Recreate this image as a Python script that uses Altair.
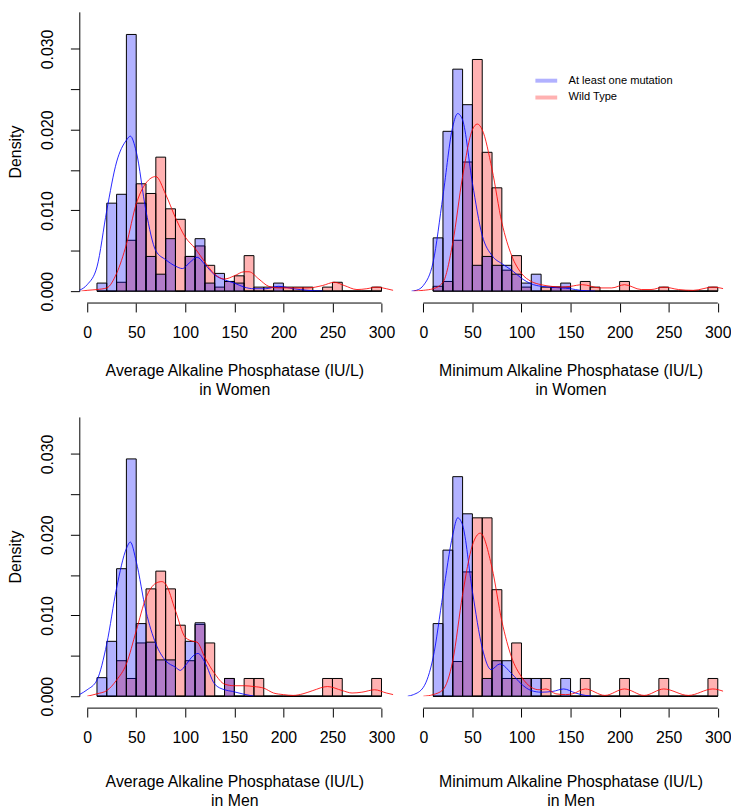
import altair as alt
import pandas as pd

# ---------------- data ----------------
BIN_STARTS = list(range(10, 300, 10))
BIN_WIDTH = 10
GROUPS = ["At least one mutation", "Wild Type"]
X_TICKS = [0, 50, 100, 150, 200, 250, 300]
Y_TICKS = [0.0, 0.005, 0.010, 0.015, 0.020, 0.025, 0.030]

# histogram densities per bin (10-20, 20-30, ..., 290-300)
avg_women_mut = [0.0010, 0.0109, 0.0120, 0.0318, 0.0109, 0.0043, 0.0021, 0.0065, 0.0, 0.0043,
                 0.0065, 0.0010, 0.0022, 0.0012, 0.0010, 0.0, 0.0, 0.0, 0.0010, 0.0,
                 0.0, 0.0, 0.0, 0.0, 0.0, 0.0, 0.0, 0.0, 0.0]
avg_women_wt = [0.0, 0.0, 0.0011, 0.0063, 0.0133, 0.0121, 0.0166, 0.0102, 0.0089, 0.0043,
                0.0056, 0.0032, 0.0005, 0.0012, 0.0019, 0.0044, 0.0005, 0.0005, 0.0005, 0.0005,
                0.0005, 0.0005, 0.0, 0.0005, 0.0011, 0.0, 0.0, 0.0, 0.0005]
min_women_mut = [0.0066, 0.0198, 0.0275, 0.0231, 0.0032, 0.0043, 0.0032, 0.0032, 0.0021, 0.0010,
                 0.0021, 0.0, 0.0005, 0.0010, 0.0, 0.0, 0.0, 0.0, 0.0, 0.0,
                 0.0, 0.0, 0.0, 0.0, 0.0, 0.0, 0.0, 0.0, 0.0]
min_women_wt = [0.0006, 0.0012, 0.0063, 0.0160, 0.0287, 0.0172, 0.0128, 0.0026, 0.0044, 0.0005,
                0.0, 0.0005, 0.0005, 0.0005, 0.0, 0.0012, 0.0005, 0.0, 0.0, 0.0012,
                0.0, 0.0, 0.0, 0.0005, 0.0, 0.0, 0.0, 0.0, 0.0005]
avg_men_mut = [0.0023, 0.0068, 0.0158, 0.0294, 0.0090, 0.0067, 0.0045, 0.0045, 0.0, 0.0068,
               0.0091, 0.0, 0.0, 0.0022, 0.0, 0.0, 0.0, 0.0, 0.0, 0.0,
               0.0, 0.0, 0.0, 0.0, 0.0, 0.0, 0.0, 0.0, 0.0]
avg_men_wt = [0.0, 0.0, 0.0044, 0.0022, 0.0066, 0.0133, 0.0155, 0.0133, 0.0088, 0.0044,
              0.0089, 0.0066, 0.0, 0.0022, 0.0, 0.0022, 0.0022, 0.0, 0.0, 0.0,
              0.0, 0.0, 0.0, 0.0022, 0.0022, 0.0, 0.0, 0.0, 0.0022]
min_men_mut = [0.0090, 0.0181, 0.0272, 0.0226, 0.0, 0.0022, 0.0044, 0.0044, 0.0022, 0.0022,
               0.0022, 0.0, 0.0, 0.0022, 0.0, 0.0, 0.0, 0.0, 0.0, 0.0,
               0.0, 0.0, 0.0, 0.0, 0.0, 0.0, 0.0, 0.0, 0.0]
min_men_wt = [0.0, 0.0, 0.0043, 0.0154, 0.0221, 0.0221, 0.0132, 0.0022, 0.0066, 0.0022,
              0.0, 0.0022, 0.0, 0.0, 0.0, 0.0022, 0.0, 0.0, 0.0, 0.0022,
              0.0, 0.0, 0.0, 0.0022, 0.0, 0.0, 0.0, 0.0, 0.0022]

# density curves (x, y)
avg_women_mut_cx = [-8, 0, 10, 20, 30, 40, 44, 50, 60, 70, 80, 90, 97, 105, 112, 120, 130, 140, 150, 160, 170, 182, 195, 210, 225, 240]
avg_women_mut_cy = [0.0001, 0.0008, 0.0030, 0.0100, 0.0160, 0.0187, 0.0192, 0.0173, 0.0099, 0.0050, 0.0039, 0.0031, 0.0028, 0.0036, 0.0042, 0.0033, 0.0020, 0.0014, 0.0010, 0.0005, 0.0003, 0.0003, 0.0006, 0.0003, 0.0001, 0.0]
avg_women_wt_cx = [-6, 0, 10, 20, 30, 40, 50, 60, 70, 80, 90, 100, 110, 120, 130, 140, 150, 160, 165, 175, 185, 195, 210, 225, 240, 252, 262, 275, 285, 295, 305, 312]
avg_women_wt_cy = [0.0, 0.0001, 0.0002, 0.0004, 0.0022, 0.0058, 0.0108, 0.0134, 0.0142, 0.0120, 0.0091, 0.0067, 0.0053, 0.0036, 0.0021, 0.0015, 0.0019, 0.0024, 0.0024, 0.0015, 0.0006, 0.0004, 0.0004, 0.0004, 0.0007, 0.0011, 0.0007, 0.0002, 0.0003, 0.0005, 0.0003, 0.0001]
min_women_mut_cx = [-12, -5, 0, 10, 20, 30, 35, 40, 50, 60, 70, 80, 90, 100, 110, 120, 130, 140, 150, 160, 175]
min_women_mut_cy = [0.0, 0.0002, 0.0007, 0.0036, 0.0118, 0.0204, 0.0220, 0.0212, 0.0134, 0.0069, 0.0044, 0.0034, 0.0026, 0.0016, 0.0009, 0.0006, 0.0005, 0.0004, 0.0003, 0.0001, 0.0]
min_women_wt_cx = [-10, 0, 10, 20, 30, 40, 50, 55, 60, 70, 80, 90, 100, 110, 120, 130, 140, 150, 162, 180, 192, 205, 222, 232, 245, 260, 275, 295, 306]
min_women_wt_cy = [0.0, 0.0001, 0.0003, 0.0011, 0.0060, 0.0142, 0.0200, 0.0207, 0.0200, 0.0151, 0.0085, 0.0044, 0.0022, 0.0012, 0.0008, 0.0006, 0.0005, 0.0006, 0.0008, 0.0004, 0.0004, 0.0008, 0.0002, 0.0002, 0.0005, 0.0002, 0.0001, 0.0005, 0.0003]
avg_men_mut_cx = [-8, 0, 10, 20, 30, 40, 44, 50, 60, 70, 80, 90, 95, 100, 108, 113, 120, 130, 140, 148, 158, 170]
avg_men_mut_cy = [0.0002, 0.0008, 0.0020, 0.0065, 0.0134, 0.0183, 0.0191, 0.0167, 0.0105, 0.0065, 0.0044, 0.0036, 0.0032, 0.0038, 0.0050, 0.0053, 0.0042, 0.0015, 0.0008, 0.0006, 0.0003, 0.0]
avg_men_wt_cx = [0, 10, 20, 30, 40, 50, 60, 70, 76, 80, 90, 100, 108, 112, 120, 130, 140, 150, 160, 170, 180, 190, 200, 210, 220, 230, 245, 260, 270, 280, 293, 305, 312]
avg_men_wt_cy = [0.0, 0.0003, 0.0007, 0.0020, 0.0040, 0.0081, 0.0122, 0.0140, 0.0142, 0.0139, 0.0106, 0.0073, 0.0068, 0.0067, 0.0048, 0.0028, 0.0015, 0.0013, 0.0013, 0.0012, 0.0010, 0.0004, 0.0002, 0.0001, 0.0003, 0.0007, 0.0012, 0.0007, 0.0004, 0.0005, 0.0008, 0.0004, 0.0002]
min_men_mut_cx = [-16, -10, 0, 10, 20, 30, 35, 40, 50, 60, 69, 78, 90, 100, 110, 120, 132, 143, 155, 165, 172]
min_men_mut_cy = [0.0, 0.0002, 0.0011, 0.0048, 0.0126, 0.0200, 0.0221, 0.0212, 0.0130, 0.0060, 0.0033, 0.0040, 0.0028, 0.0015, 0.0007, 0.0005, 0.0006, 0.0009, 0.0004, 0.0001, 0.0]
min_men_wt_cx = [0, 10, 20, 30, 40, 50, 58, 70, 80, 90, 100, 110, 118, 125, 135, 145, 152, 165, 185, 205, 225, 245, 270, 295, 306]
min_men_wt_cy = [0.0, 0.0002, 0.0008, 0.0044, 0.0126, 0.0187, 0.0202, 0.0159, 0.0093, 0.0048, 0.0024, 0.0011, 0.0008, 0.0009, 0.0003, 0.0002, 0.0003, 0.0009, 0.0001, 0.0009, 0.0001, 0.0009, 0.0001, 0.0009, 0.0006]

TITLES = {
    "avg_women": ["Average Alkaline Phosphatase (IU/L)", "in Women"],
    "min_women": ["Minimum Alkaline Phosphatase (IU/L)", "in Women"],
    "avg_men": ["Average Alkaline Phosphatase (IU/L)", "in Men"],
    "min_men": ["Minimum Alkaline Phosphatase (IU/L)", "in Men"],
}

# ---------------- layout ----------------
PLOT_H = 282
Y_MAX = 0.0346
LEFT_DOM = [-8, 312]
LEFT_W = 317
RIGHT_DOM = [-16.5, 305.4]
RIGHT_W = 319
FONT = "Liberation Sans"


def bar_frame(mut, wt):
    rows = []
    for group, vals in ((GROUPS[1], wt), (GROUPS[0], mut)):
        for s, d in zip(BIN_STARTS, vals):
            rows.append({"group": group, "start": s, "end": s + BIN_WIDTH, "density": d, "base": 0.0})
    return pd.DataFrame(rows)


def curve_frame(mx, my, wx, wy):
    rows = []
    for group, xs, ys in ((GROUPS[0], mx, my), (GROUPS[1], wx, wy)):
        for x, y in zip(xs, ys):
            rows.append({"group": group, "v": x, "d": y})
    return pd.DataFrame(rows)


def panel(bars, curves, title, xdom, width, left, legend, title_y, title_x):
    xs = alt.Scale(domain=xdom, nice=False, zero=False)
    ys = alt.Scale(domain=[0, Y_MAX], nice=False, zero=True)
    xax = alt.Axis(values=X_TICKS, domain=False, offset=12, tickSize=9, tickColor="black",
                   labelPadding=13, labelFontSize=16, labelColor="black", labelFlush=False,
                   labelOverlap=False, grid=False, title=title, titleFontSize=16,
                   titleFontWeight="normal", titleColor="black", titleY=title_y,
                   titleX=title_x, titleLineHeight=19, labelFont=FONT, titleFont=FONT)
    if left:
        yax = alt.Axis(values=Y_TICKS, tickSize=9, tickColor="black", domainColor="black",
                       labelAngle=270, labelAlign="center", labelBaseline="bottom",
                       labelPadding=15, labelFontSize=16, labelColor="black",
                       labelOverlap=False, labelFlush=False, grid=False,
                       labelExpr="abs(round(datum.value*1000) % 10) == 0 ? format(datum.value, '.3f') : ''",
                       title="Density", titleFontSize=16, titleFontWeight="normal",
                       titleColor="black", titleX=-56, labelFont=FONT, titleFont=FONT)
    else:
        yax = None

    base = alt.Chart(bars)
    red = base.transform_filter(alt.datum.group == GROUPS[1]).mark_rect(
        fill="#FF0000", fillOpacity=0.3, stroke="black", strokeWidth=1
    ).encode(
        x=alt.X("start:Q", scale=xs, axis=xax), x2="end:Q",
        y=alt.Y("density:Q", scale=ys, axis=yax), y2="base:Q",
    )
    blue = base.transform_filter(alt.datum.group == GROUPS[0]).mark_rect(
        fill="#0000FF", fillOpacity=0.3, stroke="black", strokeWidth=1
    ).encode(
        x=alt.X("start:Q", scale=xs, axis=xax), x2="end:Q",
        y=alt.Y("density:Q", scale=ys, axis=yax), y2="base:Q",
    )
    if legend:
        leg = alt.Legend(orient="none", legendX=133, legendY=62, title=None,
                         symbolType="M-2,0H2", symbolSize=121, symbolStrokeWidth=4,
                         symbolOpacity=0.3, labelFontSize=11.2, labelFont=FONT,
                         labelColor="black", labelOffset=15, rowPadding=0, padding=0)
    else:
        leg = None
    lines = alt.Chart(curves).mark_line(strokeWidth=1, opacity=0.85, clip=True,
                                        interpolate="monotone").encode(
        x=alt.X("v:Q", scale=xs, axis=xax),
        y=alt.Y("d:Q", scale=ys, axis=yax),
        color=alt.Color("group:N", scale=alt.Scale(domain=GROUPS, range=["#0000FF", "#FF0000"]),
                        legend=leg),
    )
    rule = alt.Chart(pd.DataFrame({"start": [X_TICKS[0]], "end": [X_TICKS[-1]]})).mark_rule(
        color="black", strokeWidth=1
    ).encode(
        x=alt.X("start:Q", scale=xs, axis=xax), x2="end:Q", y=alt.value(PLOT_H + 12)
    )
    return alt.layer(red, blue, lines, rule).properties(width=width, height=PLOT_H)


tl = panel(bar_frame(avg_women_mut, avg_women_wt),
           curve_frame(avg_women_mut_cx, avg_women_mut_cy, avg_women_wt_cx, avg_women_wt_cy),
           TITLES["avg_women"], LEFT_DOM, LEFT_W, True, False, 60, 156.5)
tr = panel(bar_frame(min_women_mut, min_women_wt),
           curve_frame(min_women_mut_cx, min_women_mut_cy, min_women_wt_cx, min_women_wt_cy),
           TITLES["min_women"], RIGHT_DOM, RIGHT_W, False, True, 60, 165)
bl = panel(bar_frame(avg_men_mut, avg_men_wt),
           curve_frame(avg_men_mut_cx, avg_men_mut_cy, avg_men_wt_cx, avg_men_wt_cy),
           TITLES["avg_men"], LEFT_DOM, LEFT_W, True, False, 66, 156.5)
br = panel(bar_frame(min_men_mut, min_men_wt),
           curve_frame(min_men_mut_cx, min_men_mut_cy, min_men_wt_cx, min_men_wt_cy),
           TITLES["min_men"], RIGHT_DOM, RIGHT_W, False, False, 66, 165)

chart = alt.concat(tl, tr, bl, br, columns=2, spacing={"row": 127, "column": 14}).properties(
    bounds="flush", padding={"left": 0, "top": 0, "right": 0, "bottom": 0}
).resolve_scale(color="independent").resolve_legend(color="independent").configure(
    font=FONT
).configure_view(strokeWidth=0)

chart.save("out.html", embed_options={"renderer": "svg", "actions": False})
